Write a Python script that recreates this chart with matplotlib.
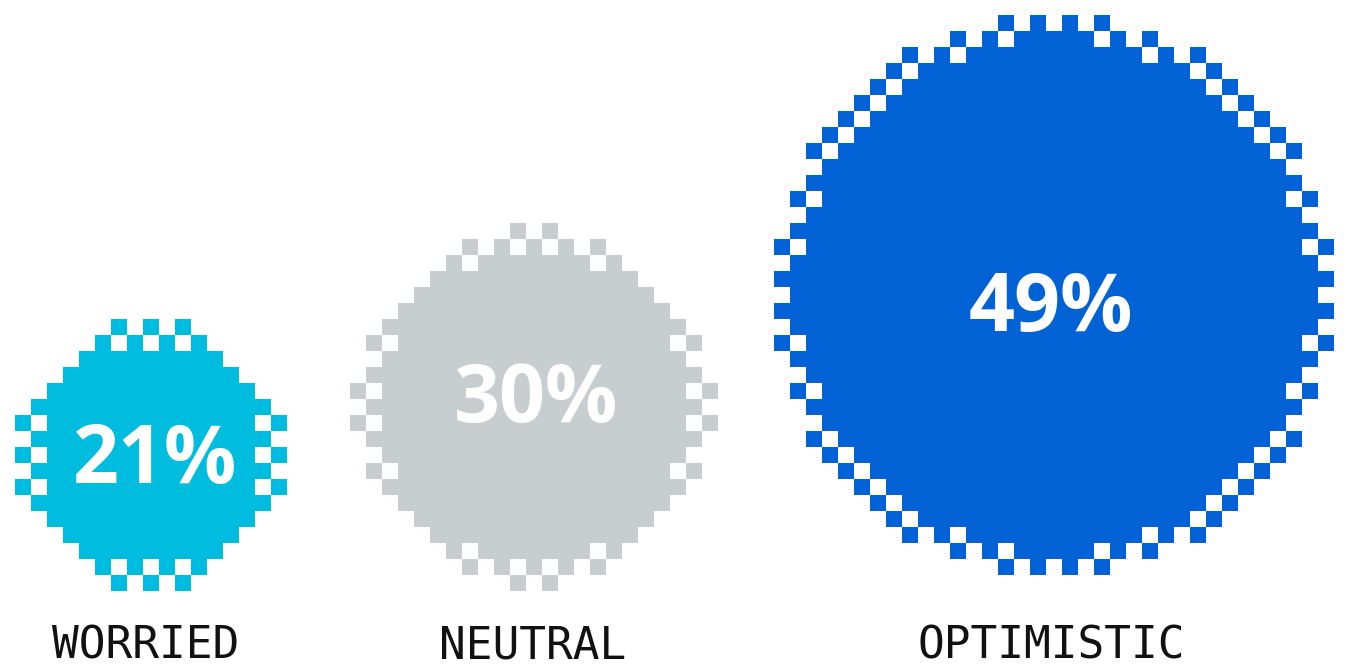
import numpy as np
import matplotlib
matplotlib.use("Agg")
import matplotlib.pyplot as plt
from matplotlib.patches import Rectangle

# ---- data ----
categories = ["WORRIED", "NEUTRAL", "OPTIMISTIC"]
values = [21, 30, 49]
value_labels = ["21%", "30%", "49%"]
colors = ["#00BDE0", "#C8CDD0", "#0062D5"]

# ---- layout ----
W, H = 1348, 671
fig = plt.figure(figsize=(W / 100, H / 100), dpi=100)
ax = fig.add_axes([0, 0, 1, 1])
ax.set_xlim(0, W)
ax.set_ylim(H, 0)
ax.axis("off")

CELL = 16
centers = [(151, 455), (534, 407), (1054, 295)]
text_pos = [(155, 462), (536, 401), (1051, 310)]
label_x = [146, 533, 1051]
LABEL_Y = 646

for v, (cx, cy), col in zip(values, centers, colors):
    R = 0.33 * v + 1.4           # blob radius in cells, linear in value
    core = R - 1.5
    n = int(np.ceil(R)) + 1
    for i in range(-n, n + 1):
        for j in range(-n, n + 1):
            d = np.hypot(i, j)
            if d <= core or (d <= R and (i + j) % 2 == 0):
                ax.add_patch(Rectangle((cx + i * CELL - CELL / 2, cy + j * CELL - CELL / 2),
                                       CELL, CELL, facecolor=col, edgecolor="none",
                                       linewidth=0, antialiased=False))

for lab, (tx, ty) in zip(value_labels, text_pos):
    ax.text(tx, ty, lab, ha="center", va="center", color="white",
            fontsize=58, fontweight="bold", family="Open Sans")

for cat, lx in zip(categories, label_x):
    ax.text(lx, LABEL_Y, cat, ha="center", va="center", color="#111111",
            fontsize=32, family="DejaVu Sans Mono")

fig.savefig("out.png", dpi=100, facecolor="white")
